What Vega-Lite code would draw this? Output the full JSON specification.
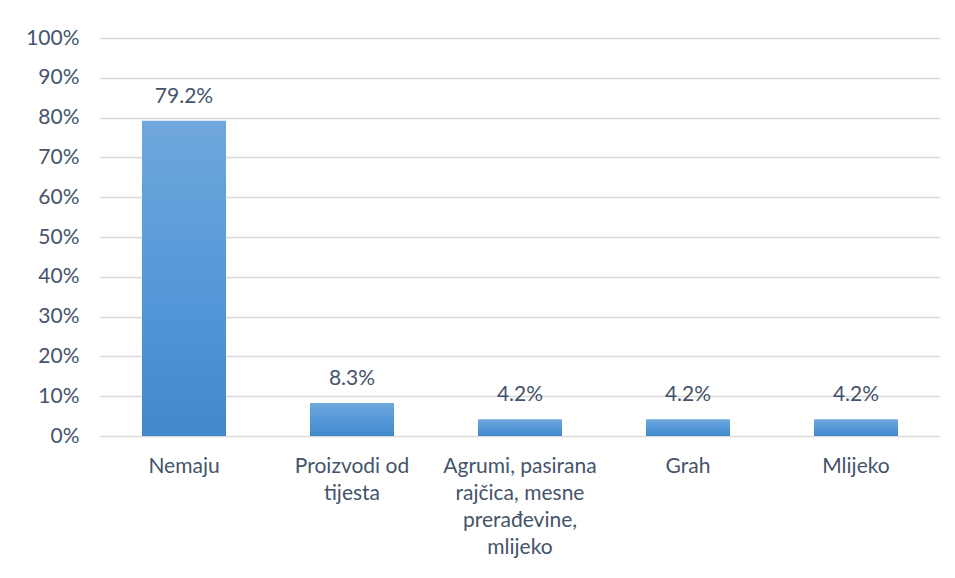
{
  "$schema": "https://vega.github.io/schema/vega-lite/v6.json",
  "width": 840,
  "height": 398,
  "autosize": {"type": "none"},
  "padding": {"left": 100, "top": 38, "right": 15, "bottom": 142},
  "background": "white",
  "data": {"values": [
    {"kategorija": "Nemaju", "udio": 0.792},
    {"kategorija": "Proizvodi od tijesta", "udio": 0.083},
    {"kategorija": "Agrumi, pasirana rajčica, mesne prerađevine, mlijeko", "udio": 0.042},
    {"kategorija": "Grah", "udio": 0.042},
    {"kategorija": "Mlijeko", "udio": 0.042}
  ]},
  "encoding": {
    "x": {
      "field": "kategorija", "type": "nominal", "sort": null,
      "scale": {"paddingInner": 0.5, "paddingOuter": 0.25},
      "axis": {
        "title": null, "labelAngle": 0, "domain": false, "ticks": false,
        "labelFont": "Lato", "labelFontSize": 21, "labelColor": "#44546A",
        "labelPadding": 19, "labelLineHeight": 27, "labelBaseline": "top",
        "labelExpr": "datum.value == 'Proizvodi od tijesta' ? ['Proizvodi od', 'tijesta'] : datum.value == 'Agrumi, pasirana rajčica, mesne prerađevine, mlijeko' ? ['Agrumi, pasirana', 'rajčica, mesne', 'prerađevine,', 'mlijeko'] : datum.value"
      }
    },
    "y": {
      "field": "udio", "type": "quantitative",
      "scale": {"domain": [0, 1], "nice": false},
      "axis": {
        "title": null, "format": ".0%", "values": [0, 0.1, 0.2, 0.3, 0.4, 0.5, 0.6, 0.7, 0.8, 0.9, 1],
        "domain": false, "ticks": false, "grid": true, "gridColor": "#D9D9D9", "gridWidth": 1.5,
        "labelFont": "Lato", "labelFontSize": 21, "labelColor": "#44546A", "labelPadding": 21
      }
    }
  },
  "layer": [
    {
      "mark": {
        "type": "bar",
        "color": {
          "gradient": "linear", "x1": 0, "y1": 0, "x2": 0, "y2": 1,
          "stops": [{"offset": 0, "color": "#70A7DC"}, {"offset": 0.5, "color": "#5599D9"}, {"offset": 1, "color": "#4288CC"}]
        }
      }
    },
    {
      "mark": {"type": "text", "dy": -14, "baseline": "bottom", "font": "Lato", "fontSize": 21, "color": "#44546A"},
      "encoding": {"text": {"field": "udio", "type": "quantitative", "format": ".1%"}}
    }
  ],
  "config": {"view": {"stroke": null}}
}
